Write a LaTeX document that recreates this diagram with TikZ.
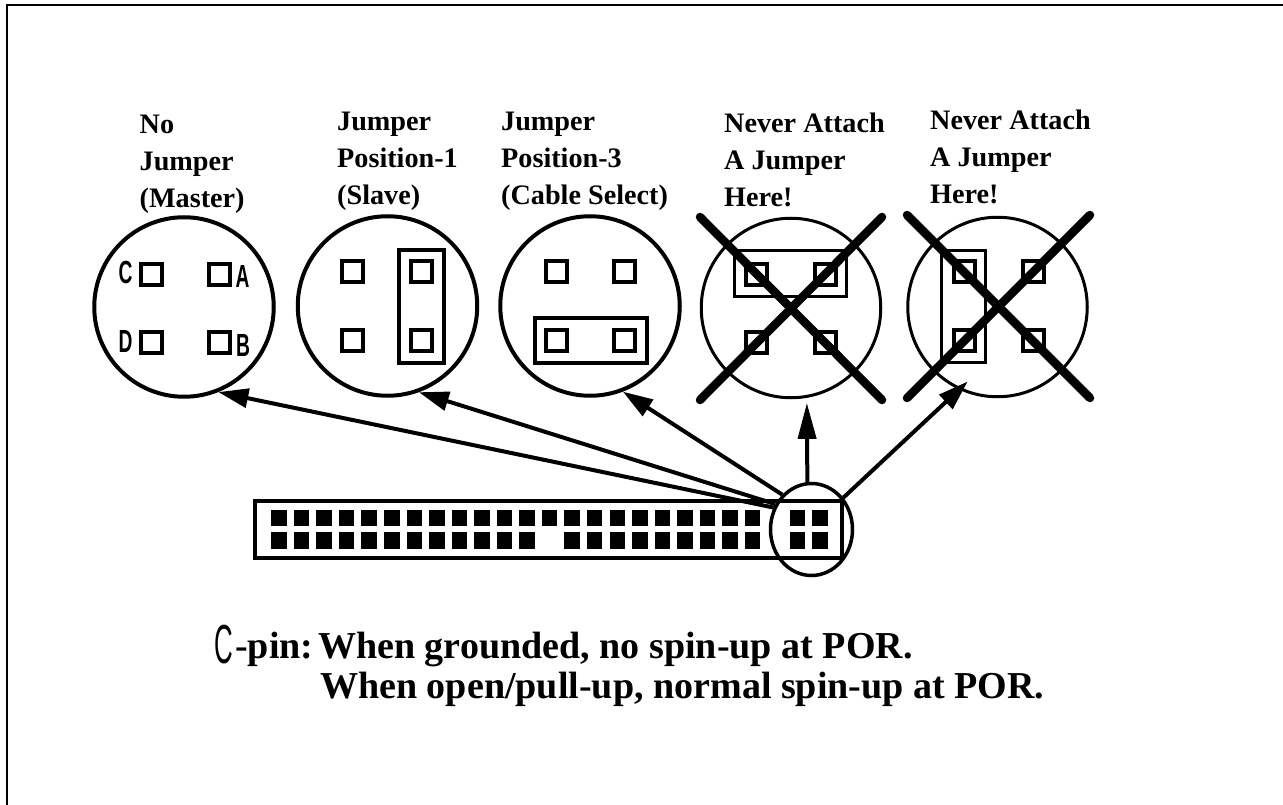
\documentclass[tikz,border=0pt]{standalone}
\usepackage{fontspec}
\setmainfont{Liberation Serif}
\newfontfamily\pinfont{Liberation Sans}
\usetikzlibrary{arrows.meta,shapes.geometric}
\tikzset{
	view/.style = {
			circle,
			draw,
			line width      = 4pt,
			minimum size    = 179.5pt,
			inner sep       = 0pt,
		},
	pinbox/.style = {
			rectangle,
			draw,
			line width      = 4pt,
			minimum size    = 21pt,
			inner sep       = 0pt,
		},
	jumper/.style = {
			rectangle,
			draw,
			line width      = 4pt,
			inner sep       = 0pt,
		},
	contact/.style = {
			rectangle,
			fill            = black,
			minimum width   = 15.5pt,
			minimum height  = 16.5pt,
			inner sep       = 0pt,
		},
	caption/.style = {
			anchor=north west,
			align=left,
			inner sep=0pt,
			font=\bfseries\fontsize{28.2}{37}\selectfont,
		},
	pinname/.style = {
			inner sep=0pt,
			xscale=0.6,
			font=\pinfont\bfseries\fontsize{32}{32}\selectfont,
		},
	note/.style = {
			anchor=base west,
			inner sep=0pt,
			font=\bfseries\fontsize{38.05}{38}\selectfont,
		},
	feed/.style = {
			line width=4pt,
			-{Triangle[length=30pt,width=19pt]},
		},
	crossbar/.style = {
			line width=8.5pt,
			line cap=round,
		},
}

\begin{document}
\begin{tikzpicture}[x=1pt,y=-1pt]
	\useasboundingbox (0,0) rectangle (1283,805);
	\draw[line width=2pt] (1283,5) -- (7,5) -- (7,805);

	% Captions above the views
	\node[caption] (capa) at (139.5,115) {No\\Jumper\\(Master)};
	\node[caption] (capb) at (337,112) {Jumper\\Position-1\\(Slave)};
	\node[caption] (capc) at (501,112) {Jumper\\Position-3\\(Cable Select)};
	\node[caption] (capd) at (724,113) {Never Attach\\A Jumper\\Here!};
	\node[caption] (cape) at (930,110) {Never Attach\\A Jumper\\Here!};

	% Enlarged views of the four pins
	\node[view] (viewa) at (184,307) {};
	\node[view] (viewb) at (387.5,306) {};
	\node[view] (viewc) at (590,306) {};
	\node[view,line width=3pt] (viewd) at (791,308) {};
	\node[view,line width=3pt] (viewe) at (997.5,307) {};

	% Pins of each view
	\foreach \name/\x/\y in {a/151/274.5,b/352.5/272,c/556/272,d/756.5/274.5,e/964.5/272}
		{   \node[pinbox] (\name nw) at (\x,\y) {};
			\node[pinbox] (\name ne) at (\x+68.5,\y) {};
			\node[pinbox] (\name sw) at (\x,\y+68) {};
			\node[pinbox] (\name se) at (\x+68.5,\y+68) {};
		}

	% Pin names
	\node[pinname] (namec) at (125.5,272) {C};
	\node[pinname] (namea) at (242.5,276) {A};
	\node[pinname] (named) at (125.5,341) {D};
	\node[pinname] (nameb) at (243,345) {B};

	% Jumpers
	\node[jumper,minimum width=45pt,minimum height=112pt] (jumpb) at (421,306.5) {};
	\node[jumper,minimum width=112pt,minimum height=45pt] (jumpc) at (590.5,340) {};
	\node[jumper,line width=3pt,minimum width=112pt,minimum height=46pt] (jumpd) at (790.5,273.5) {};
	\node[jumper,line width=3pt,minimum width=44pt,minimum height=112pt] (jumpe) at (963.5,306.5) {};

	% Crosses
	\draw[crossbar] (700,217) coordinate (dnw) -- (882,400) coordinate (dse);
	\draw[crossbar] (882,217) coordinate (dne) -- (700,400) coordinate (dsw);
	\draw[crossbar] (907,215) coordinate (enw) -- (1090,398) coordinate (ese);
	\draw[crossbar] (1090,215) coordinate (ene) -- (907,398) coordinate (esw);

	% Connector strip
	\node[rectangle,draw,line width=4pt,anchor=north west,inner sep=0pt,minimum width=587pt,minimum height=57pt] (strip) at (253,499) {};
	\foreach \i in {0,...,21,23,24}
		\node[contact] (top\i) at (279+22.55*\i,518) {};
	\foreach \i in {0,...,11,13,14,...,21,23,24}
		\node[contact] (bot\i) at (279+22.55*\i,540.5) {};
	\node[ellipse,draw,line width=3.5pt,minimum width=82pt,minimum height=92pt,inner sep=0pt] (zoomring) at (811.5,529.5) {};

	% Arrows from the ring to the views
	\draw[feed] (zoomring.150) -- (viewa.-68);
	\draw[feed] (zoomring.145) -- (viewb.-70);
	\draw[feed] (zoomring.130) -- (viewc.-69);
	\draw[feed,-{Triangle[length=36pt,width=18pt]},shorten >=5pt] (zoomring.95) -- (viewd.-80);
	\draw[feed,shorten >=-12pt] (zoomring.45) -- (viewe.-115);

	% Note
	\node[inner sep=0pt,xscale=0.47,anchor=base west,font=\pinfont\fontsize{55}{55}\selectfont] (bigc) at (214,663) {C};
	\node[note] (notea) at (235,658) {-pin:\hspace{-8pt} When grounded, no spin-up at POR.};
	\node[note] (noteb) at (320,698) {When open/pull-up, normal spin-up at POR.};
\end{tikzpicture}
\end{document}
